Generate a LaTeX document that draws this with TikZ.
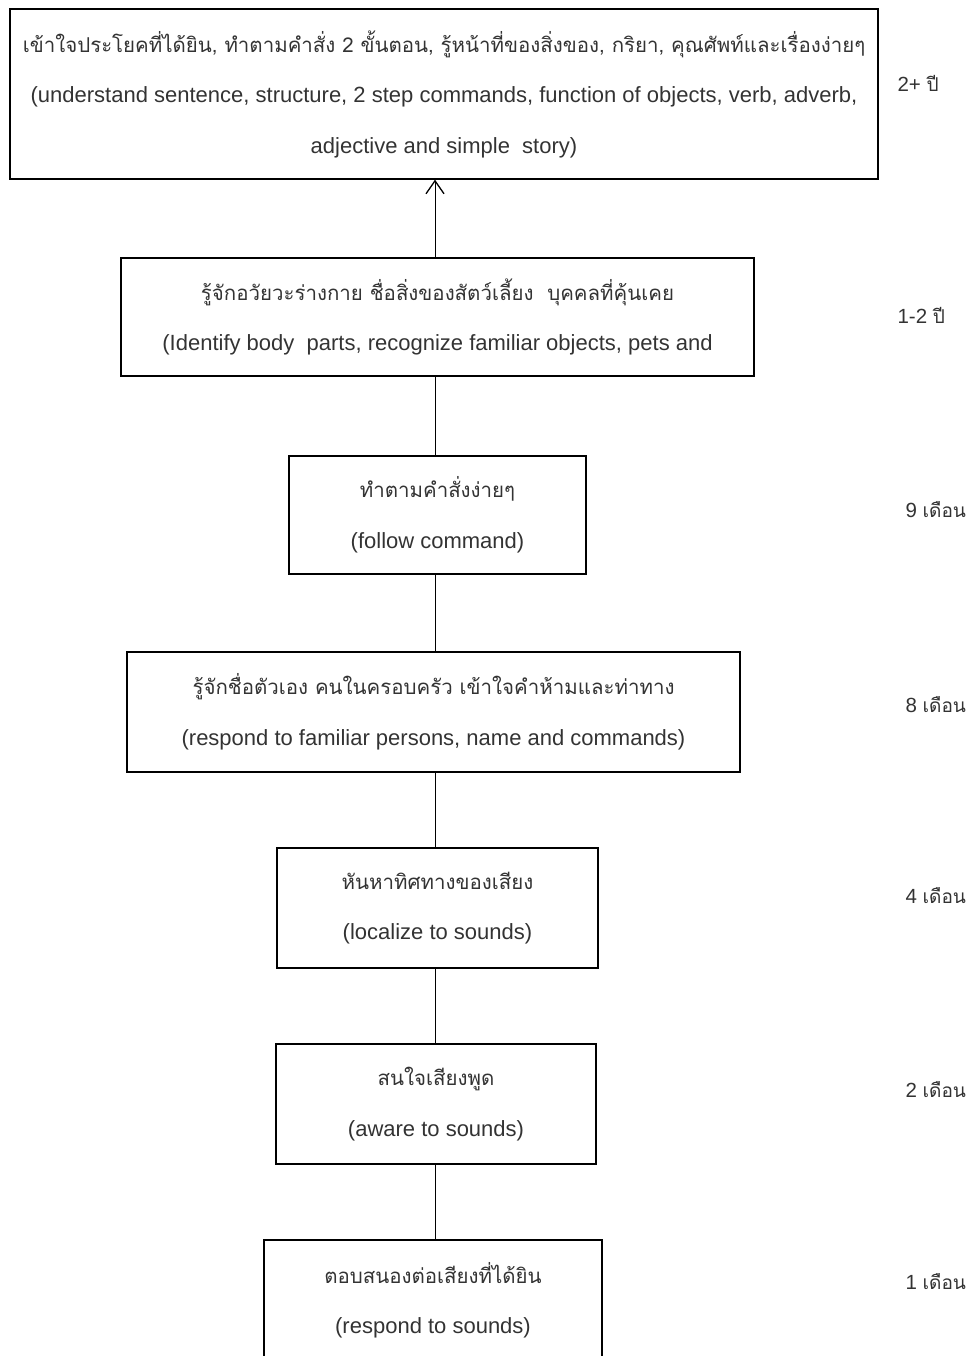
\documentclass[tikz,border=0pt]{standalone}
\usepackage{fontspec}
\setmainfont{Liberation Sans}
\newfontfamily\thaifont[Script=Thai,Scale=0.93]{Loma}
\usetikzlibrary{arrows.meta}

\begin{document}
\begin{tikzpicture}[x=1pt, y=-1pt,
    stage/.style={draw=black, line width=1.3pt, inner sep=0pt, align=center,
        text=black!80, font=\fontsize{22}{50.5}\selectfont},
    age/.style={anchor=west, text=black!80, font=\fontsize{20.5}{22}\selectfont},
    link/.style={line width=1pt}]

    % Page frame (same size as the reference)
    \useasboundingbox (0,0) rectangle (974,1356);

    % === STAGES (top = oldest) ===
    \node[stage, minimum width=868pt, minimum height=170pt] (s1) at (444,94)
        {{\thaifont เข้าใจประโยคที่ได้ยิน, ทำตามคำสั่ง 2 ขั้นตอน, รู้หน้าที่ของสิ่งของ, กริยา, คุณศัพท์และเรื่องง่ายๆ}\\
         (understand sentence, structure, 2 step commands, function of objects, verb, adverb,\\
         adjective and simple\ \ story)};
    \node[stage, minimum width=633pt, minimum height=118pt] (s2) at (437.5,317)
        {{\thaifont รู้จักอวัยวะร่างกาย ชื่อสิ่งของสัตว์เลี้ยง\ \ บุคคลที่คุ้นเคย}\\
         (Identify body\ \ parts, recognize familiar objects, pets and};
    \node[stage, minimum width=297pt, minimum height=118pt] (s3) at (437.5,515)
        {{\thaifont ทำตามคำสั่งง่ายๆ}\\ (follow command)};
    \node[stage, minimum width=613pt, minimum height=120pt] (s4) at (433.5,712)
        {{\thaifont รู้จักชื่อตัวเอง คนในครอบครัว เข้าใจคำห้ามและท่าทาง}\\
         (respond to familiar persons, name and commands)};
    \node[stage, minimum width=321pt, minimum height=120pt] (s5) at (437.5,908)
        {{\thaifont หันหาทิศทางของเสียง}\\ (localize to sounds)};
    \node[stage, minimum width=320pt, minimum height=120pt] (s6) at (436,1104)
        {{\thaifont สนใจเสียงพูด}\\ (aware to sounds)};
    % last box runs off the bottom of the page
    \node[stage, minimum width=338pt, minimum height=120pt] (s7) at (433,1300)
        {{\thaifont ตอบสนองต่อเสียงที่ได้ยิน}\\ (respond to sounds)};

    % === CONNECTORS ===
    \coordinate (spine) at (435,0);
    \draw[link, -{Straight Barb[length=13pt, width=18pt, line width=1.3pt]}]
        (s2.north -| spine) -- (s1.south -| spine);
    \draw[link] (s3.north -| spine) -- (s2.south -| spine);
    \draw[link] (s4.north -| spine) -- (s3.south -| spine);
    \draw[link] (s5.north -| spine) -- (s4.south -| spine);
    \draw[link] (s6.north -| spine) -- (s5.south -| spine);
    \draw[link] (s7.north -| spine) -- (s6.south -| spine);

    % === AGES ===
    \node[age] (a1) at (894,83) {2+ {\thaifont ปี}};
    \node[age] (a2) at (894,315) {1-2 {\thaifont ปี}};
    \node[age] (a3) at (902,510) {9 {\thaifont เดือน}};
    \node[age] (a4) at (902,705) {8 {\thaifont เดือน}};
    \node[age] (a5) at (902,896) {4 {\thaifont เดือน}};
    \node[age] (a6) at (902,1090) {2 {\thaifont เดือน}};
    \node[age] (a7) at (902,1282) {1 {\thaifont เดือน}};

\end{tikzpicture}
\end{document}
